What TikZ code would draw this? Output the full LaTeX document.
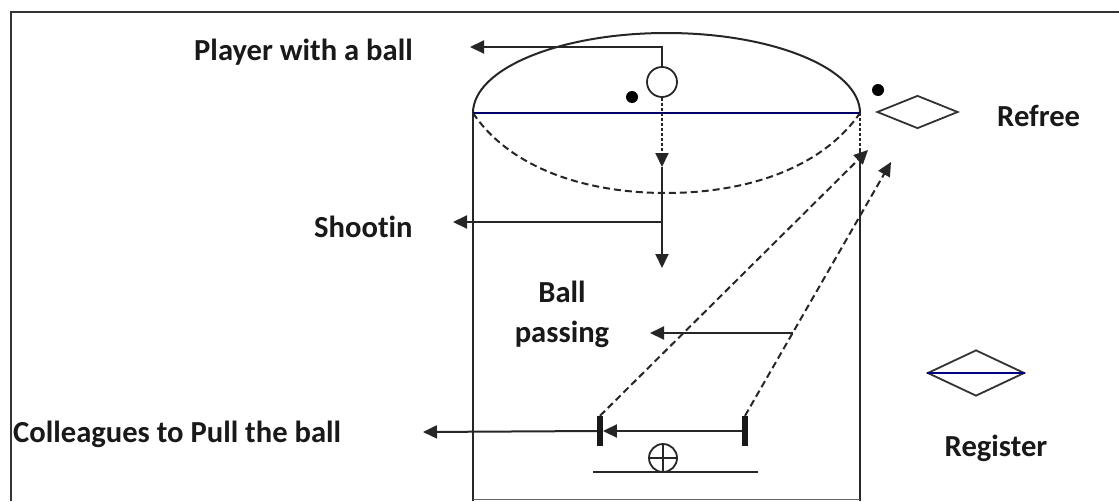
\documentclass[tikz,border=0pt]{standalone}
\usepackage{fontspec}
\setmainfont{Carlito}
\usetikzlibrary{arrows.meta,shapes.geometric}
\begin{document}
\begin{tikzpicture}[x=1pt,y=-1pt,
  ln/.style={line width=2pt, draw=black!85},
  tip/.style={-{Triangle[length=14pt,width=13pt]}},
  arr/.style={ln, tip},
  dsh/.style={ln, dash pattern=on 7pt off 4pt},
  dot/.style={circle, fill=black, inner sep=0pt, minimum size=12pt},
  post/.style={rectangle, fill=black!90, inner sep=0pt, minimum width=5.5pt, minimum height=30pt},
  dia/.style={diamond, draw=black!80, line width=1.8pt, inner sep=0pt, shape aspect=2.4},
  lbl/.style={font=\bfseries\fontsize{30.6}{40}\selectfont, text=black!90, inner sep=0pt}
]
\useasboundingbox (0,0) rectangle (1119,501);
% frame
\draw[line width=1.6pt, black!80] (11,501) -- (11,12) -- (1119,12);

% cylinder
\coordinate (tl) at (473,113);
\coordinate (tr) at (860,113);
\draw[ln] (tl) arc[start angle=180, end angle=360, x radius=193.5, y radius=80];
\draw[dsh] (tl) .. controls (510,168) and (585,193) .. (666,193) .. controls (747,193) and (822,168) .. (tr);
\draw[ln, draw=blue!40!black] (tl) -- (tr);
\draw[ln] (tl) -- (473,501);
\draw[ln, dash pattern=on 3pt off 2pt] (tr) -- (860,150);
\draw[ln] (860,150) -- (860,501);
\draw[line width=1.4pt, draw=black!60] (473,499.5) -- (860,499.5);

% player
\node[circle, draw=black!85, line width=1.8pt, inner sep=0pt, minimum size=30pt] (player) at (662,82) {};
\node[dot] (pdot) at (632,97) {};
\coordinate (pbend) at (662,47);
\coordinate (ptip) at (470,47);
\draw[arr] (player.north) -- (pbend) -- (ptip);
\node[lbl, anchor=base west] (tplayer) at (194,60) {Player with a ball};

% shooting
\coordinate (s1) at (662,167);
\coordinate (s2) at (662,268);
\coordinate (sj) at (662,222);
\coordinate (stip) at (453,222);
\draw[ln, dash pattern=on 3pt off 2pt, tip] (player.south) -- (s1);
\draw[arr] (s1) -- (s2);
\draw[arr] (sj) -- (stip);
\node[lbl, anchor=base west] (tshoot) at (314,237) {Shoot{\kern0pt}in};

% ball passing
\node[lbl, align=center, anchor=base] (tpass) at (562,342) {Ball\\passing};
\coordinate (bp1) at (793,333);
\coordinate (bp2) at (650,333);
\draw[arr] (bp1) -- (bp2);

% posts
\node[post] (lpost) at (600,431) {};
\node[post] (rpost) at (745,431) {};
\draw[arr] (rpost.west) -- (lpost.east);
\coordinate (ctip) at (423,432);
\draw[arr] (lpost.west) -- (ctip);
\node[lbl, anchor=base west] (tcoll) at (13,442) {Colleagues to Pull the ball};

% referee
\node[dot] (rdot) at (878,90) {};
\node[dia, minimum width=81pt, minimum height=33pt] (ref) at (917.5,112) {};
\node[lbl, anchor=base west] (tref) at (997,126) {Refree};
\coordinate (a1) at (868,150);
\coordinate (a2) at (891,162);
\draw[dsh, tip] (lpost.north) -- (a1);
\draw[dsh, tip] (rpost.north) -- (a2);

% ball symbol
\node[circle, draw=black!85, line width=1.8pt, inner sep=0pt, minimum size=28pt] (ball) at (663,458) {};
\draw[line width=1.6pt, black!85] (ball.north) -- (ball.south) (ball.west) -- (ball.east);
\coordinate (g1) at (593,472);
\coordinate (g2) at (758,472);
\draw[ln] (g1) -- (g2);

% register
\node[dia, minimum width=97pt, minimum height=46pt] (reg) at (976,373) {};
\draw[ln, draw=blue!50!black] (reg.west) -- (reg.east);
\node[lbl, anchor=base] (treg) at (996,456) {Register};
\end{tikzpicture}
\end{document}
